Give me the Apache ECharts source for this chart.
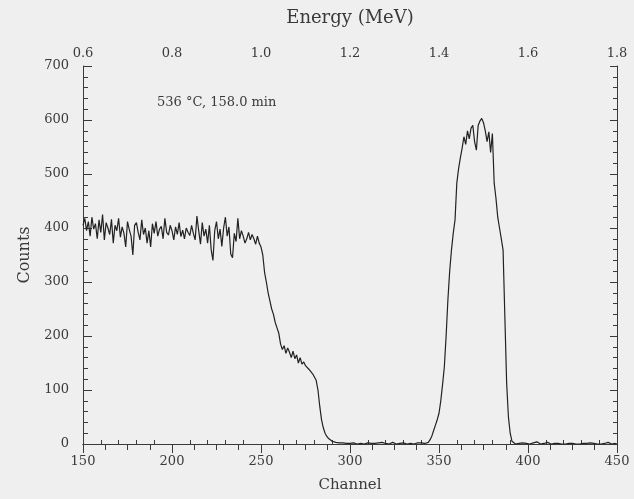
<!DOCTYPE html>
<html>
<head>
<meta charset="utf-8">
<script src="https://cdn.jsdelivr.net/npm/echarts@6/dist/echarts.min.js"></script>
<style>
html,body{margin:0;padding:0;background:#efefef;}
#chart{width:634px;height:499px;}
</style>
</head>
<body>
<div id="chart"></div>
<script>
// Channel of the first count value; one count per channel
const channelStart = 150;
const counts = [
  405, 418, 395, 412, 385, 420, 398, 408, 380, 415,
  392, 425, 378, 410, 400, 388, 416, 372, 405, 395,
  418, 383, 402, 390, 365, 412, 397, 385, 350, 405,
  410, 392, 378, 415, 388, 400, 372, 395, 365, 408,
  390, 412, 385, 398, 403, 380, 418, 392, 387, 405,
  395, 378, 402, 388, 410, 384, 396, 380, 400, 392,
  386, 405, 390, 378, 422, 395, 370, 410, 385, 398,
  372, 405, 360, 340, 395, 412, 380, 398, 366, 400,
  420, 385, 402, 352, 345, 390, 375, 418, 380, 395,
  385, 372, 380, 392, 378, 388, 380, 370, 385, 372,
  365, 350, 318, 300, 280, 265, 250, 240, 225, 215,
  205, 185, 175, 182, 168, 178, 170, 160, 172, 158,
  165, 150, 160, 148, 152, 145, 142, 138, 135, 130,
  128, 118, 100, 70, 45, 30, 20, 14, 10, 7,
  5, 4, 3, 2, 2, 1, 2, 0, 1, 3,
  1, 0, 2, 1, 0, 3, 1, 2, 0, 1,
  2, 0, 1, 4, 1, 0, 2, 1, 3, 0,
  1, 2, 0, 1, 3, 1, 0, 2, 1, 0,
  2, 1, 0, 3, 1, 2, 0, 1, 2, 1,
  2, 3, 1, 4, 3, 8, 15, 25, 35, 45,
  57, 80, 110, 143, 200, 267, 320, 359, 390, 415,
  483, 510, 530, 548, 569, 555, 580, 565, 585, 590,
  560, 544, 590, 598, 603, 595, 580, 560, 578, 540,
  575, 483, 455, 420, 400, 380, 359, 235, 113, 50,
  20, 5, 2, 0, 3, 1, 4, 2, 0, 1,
  3, 0, 1, 2, 0, 4, 1, 0, 2, 1,
  0, 3, 1, 0, 2, 1, 0, 1, 3, 0,
  1, 0, 2, 1, 0, 1, 3, 0, 1, 0,
  2, 1, 0, 1, 0, 2, 4, 1, 3, 0,
  1, 0, 2, 1, 0, 3, 1, 0, 2, 1,
  0
];
const channelAxis = {min: 150, max: 450, interval: 50};
const energyAxis = {min: 0.6, max: 1.8, interval: 0.2};
const countAxis = {min: 0, max: 700, interval: 100};
const annotation = "536 °C, 158.0 min";

const seriesData = counts.map((c, i) => [channelStart + i, c]);

const FONT = "DejaVu Serif";
const AX = "#3a3a3a";
const TXT = "#3a3a3a";
const G = {left: 83, right: 17, top: 66, bottom: 55};

const chart = echarts.init(document.getElementById('chart'), null, {renderer: 'canvas'});
chart.setOption({
  backgroundColor: '#efefef',
  animation: false,
  grid: [Object.assign({}, G), Object.assign({}, G)],
  xAxis: [
    {
      type: 'value', position: 'bottom', gridIndex: 0,
      min: channelAxis.min, max: channelAxis.max, interval: channelAxis.interval,
      name: 'Channel', nameLocation: 'middle', nameGap: 34,
      nameTextStyle: {fontFamily: FONT, fontSize: 15, color: TXT},
      axisLine: {show: true, lineStyle: {color: AX, width: 1}},
      axisTick: {show: true, inside: false, length: 6, lineStyle: {color: AX}},
      minorTick: {show: false},
      axisLabel: {fontFamily: FONT, fontSize: 13, color: TXT, margin: 11},
      splitLine: {show: false}
    },
    {
      type: 'value', position: 'top', gridIndex: 0,
      min: energyAxis.min, max: energyAxis.max, interval: energyAxis.interval,
      name: 'Energy (MeV)', nameLocation: 'middle', nameGap: 39,
      nameTextStyle: {fontFamily: FONT, fontSize: 18, color: TXT},
      axisLine: {show: true, lineStyle: {color: AX, width: 1}},
      axisTick: {show: true, inside: true, length: 9, lineStyle: {color: AX}},
      minorTick: {show: true, splitNumber: 4, length: 6, lineStyle: {color: AX}},
      axisLabel: {fontFamily: FONT, fontSize: 13, color: TXT, margin: 6,
        formatter: v => v.toFixed(1)},
      splitLine: {show: false}
    },
    {
      type: 'value', position: 'bottom', gridIndex: 1,
      min: channelAxis.min, max: channelAxis.max, interval: channelAxis.interval,
      axisLine: {show: false},
      axisTick: {show: false, inside: true},
      minorTick: {show: true, splitNumber: 5, length: 4, lineStyle: {color: AX}},
      axisLabel: {show: false},
      splitLine: {show: false}
    }
  ],
  yAxis: [
    {
      type: 'value', position: 'left', gridIndex: 0,
      min: countAxis.min, max: countAxis.max, interval: countAxis.interval,
      name: 'Counts', nameLocation: 'middle', nameGap: 50, nameRotate: 90,
      nameTextStyle: {fontFamily: FONT, fontSize: 16, color: TXT},
      axisLine: {show: true, lineStyle: {color: AX, width: 1}},
      axisTick: {show: true, inside: true, length: 9, lineStyle: {color: AX}},
      minorTick: {show: true, splitNumber: 5, length: 5, lineStyle: {color: AX}},
      axisLabel: {fontFamily: FONT, fontSize: 13, color: TXT, margin: 14},
      splitLine: {show: false}
    },
    {
      type: 'value', position: 'right', gridIndex: 0,
      min: countAxis.min, max: countAxis.max, interval: countAxis.interval,
      axisLine: {show: true, lineStyle: {color: AX, width: 1}},
      axisTick: {show: true, inside: true, length: 7, lineStyle: {color: AX}},
      minorTick: {show: true, splitNumber: 5, length: 4, lineStyle: {color: AX}},
      axisLabel: {show: false},
      splitLine: {show: false}
    },
    {
      type: 'value', gridIndex: 1,
      min: countAxis.min, max: countAxis.max, show: false
    }
  ],
  graphic: [
    {type: 'text', left: 157, top: 96,
     style: {text: annotation, fontFamily: FONT, fontSize: 13, fill: TXT}}
  ],
  series: [{
    type: 'line', xAxisIndex: 0, yAxisIndex: 0,
    data: seriesData, showSymbol: false, symbol: 'none',
    lineStyle: {color: '#222', width: 1.2}
  }]
});
</script>
</body>
</html>
